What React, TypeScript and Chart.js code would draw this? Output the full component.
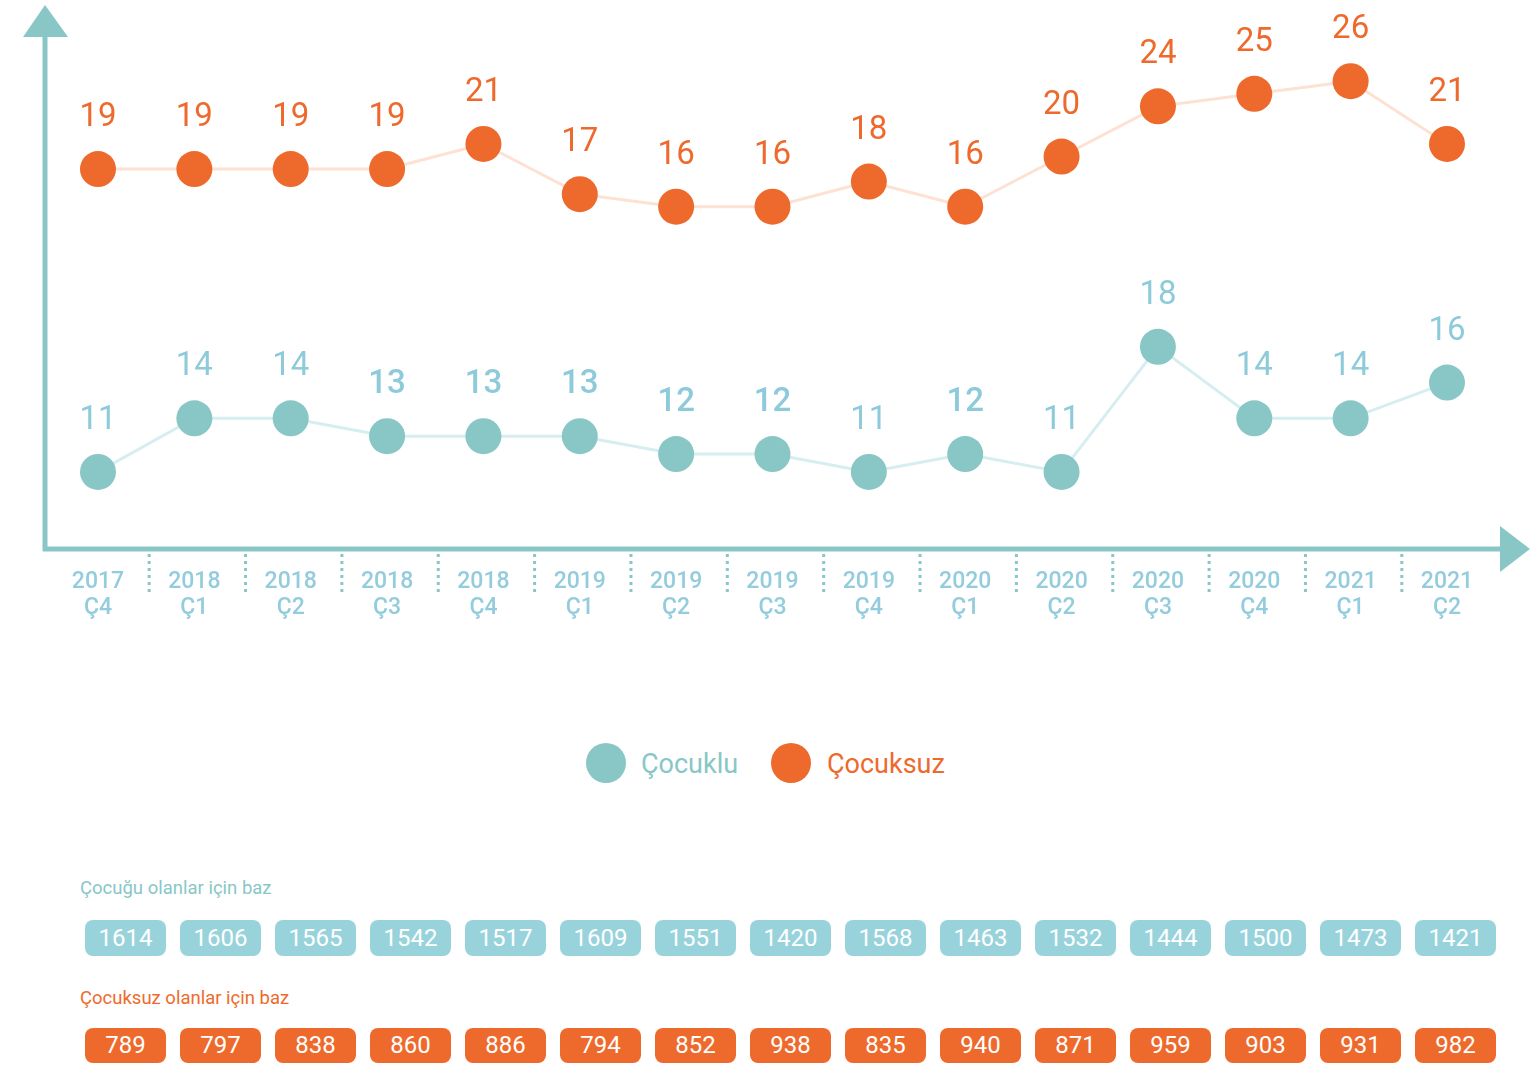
import React, { useEffect, useRef } from "react";
import { Chart, registerables } from "chart.js";

Chart.register(...registerables);

const quarters: string[][] = [
  ["2017", "Ç4"], ["2018", "Ç1"], ["2018", "Ç2"], ["2018", "Ç3"], ["2018", "Ç4"],
  ["2019", "Ç1"], ["2019", "Ç2"], ["2019", "Ç3"], ["2019", "Ç4"], ["2020", "Ç1"],
  ["2020", "Ç2"], ["2020", "Ç3"], ["2020", "Ç4"], ["2021", "Ç1"], ["2021", "Ç2"],
];
const cocuklu: number[] = [11, 14, 14, 13, 13, 13, 12, 12, 11, 12, 11, 18, 14, 14, 16];
const cocuksuz: number[] = [19, 19, 19, 19, 21, 17, 16, 16, 18, 16, 20, 24, 25, 26, 21];
const cocukluBase: number[] = [1614, 1606, 1565, 1542, 1517, 1609, 1551, 1420, 1568, 1463, 1532, 1444, 1500, 1473, 1421];
const cocuksuzBase: number[] = [789, 797, 838, 860, 886, 794, 852, 938, 835, 940, 871, 959, 903, 931, 982];
const seriesNames: string[] = ["Çocuklu", "Çocuksuz"];
const baseTitles: string[] = ["Çocuğu olanlar için baz", "Çocuksuz olanlar için baz"];

const TEAL = "#88C7C6";
const TEAL_TEXT = "#8DCADA";
const TEAL_LINE = "#D7EEF0";
const ORANGE = "#EE6A2C";
const ORANGE_LINE = "#FDE1D2";
const TEAL_BOX = "#98D3DC";
const FONT = "Roboto";

const decorPlugin = {
  id: "decor",
  beforeDatasetsDraw(chart: any) {
    const ctx = chart.ctx;
    const x = chart.scales.x;
    ctx.save();
    ctx.fillStyle = TEAL;
    ctx.strokeStyle = TEAL;
    ctx.lineWidth = 5;
    // vertical axis
    ctx.beginPath();
    ctx.moveTo(45, 551);
    ctx.lineTo(45, 36);
    ctx.stroke();
    ctx.beginPath();
    ctx.moveTo(45, 5);
    ctx.lineTo(23, 37);
    ctx.lineTo(68, 37);
    ctx.closePath();
    ctx.fill();
    // horizontal axis
    ctx.beginPath();
    ctx.moveTo(43, 549);
    ctx.lineTo(1502, 549);
    ctx.stroke();
    ctx.beginPath();
    ctx.moveTo(1530, 549);
    ctx.lineTo(1500, 526);
    ctx.lineTo(1500, 572);
    ctx.closePath();
    ctx.fill();
    // dotted separators
    ctx.lineWidth = 3;
    ctx.setLineDash([3, 4]);
    for (let i = 0; i < quarters.length - 1; i++) {
      const m = (x.getPixelForValue(i) + x.getPixelForValue(i + 1)) / 2 + 3;
      ctx.beginPath();
      ctx.moveTo(m, 554);
      ctx.lineTo(m, 592);
      ctx.stroke();
    }
    ctx.restore();
  },
  afterDatasetsDraw(chart: any) {
    const ctx = chart.ctx;
    ctx.save();
    ctx.textAlign = "center";
    ctx.textBaseline = "alphabetic";
    chart.data.datasets.forEach((ds: any, di: number) => {
      const meta = chart.getDatasetMeta(di);
      ctx.fillStyle = di === 0 ? TEAL_TEXT : ORANGE;
      meta.data.forEach((pt: any, j: number) => {
        const v = ds.data[j];
        const bold = di === 0 && (v === 12 || v === 13);
        ctx.font = `${bold ? 500 : 400} 33px ${FONT}`;
        ctx.fillText(String(v), pt.x, pt.y - 43);
      });
    });
    ctx.restore();
  },
};

function LineChart() {
  const ref = useRef<HTMLCanvasElement | null>(null);
  useEffect(() => {
    if (!ref.current) return;
    const chart = new Chart(ref.current, {
      type: "line",
      data: {
        labels: quarters,
        datasets: [
          {
            label: seriesNames[0],
            data: cocuklu,
            yAxisID: "y",
            borderColor: TEAL_LINE,
            borderWidth: 3,
            pointRadius: 18,
            pointHoverRadius: 18,
            pointBackgroundColor: TEAL,
            pointBorderWidth: 0,
            tension: 0,
            clip: false,
          },
          {
            label: seriesNames[1],
            data: cocuksuz,
            yAxisID: "y2",
            borderColor: ORANGE_LINE,
            borderWidth: 3,
            pointRadius: 18,
            pointHoverRadius: 18,
            pointBackgroundColor: ORANGE,
            pointBorderWidth: 0,
            tension: 0,
            clip: false,
          },
        ],
      },
      options: {
        responsive: false,
        animation: false,
        layout: { padding: { left: 98, right: 83, top: 0, bottom: 0 } },
        plugins: { legend: { display: false }, tooltip: { enabled: false } },
        scales: {
          x: {
            type: "category",
            offset: false,
            grid: { display: false },
            border: { display: false },
            ticks: {
              color: "#93CCDC",
              font: { family: FONT, size: 23, weight: "500", lineHeight: 1.15 },
              padding: 11,
              autoSkip: false,
              maxRotation: 0,
            },
            afterFit: (s: any) => {
              s.height = 90;
            },
          },
          y: { display: false, min: 6.63, max: 36.4 },
          y2: { display: false, min: -11.36, max: 31.04 },
        },
      },
      plugins: [decorPlugin],
    } as any);
    return () => chart.destroy();
  }, []);
  return <canvas ref={ref} width={1530} height={640} style={{ width: 1530, height: 640, display: "block" }} />;
}

export default function App() {
  const boxStyle = (bg: string, top: number, i: number, h: number): React.CSSProperties => ({
    position: "absolute",
    left: 85 + 95 * i,
    top,
    width: 81,
    height: h,
    borderRadius: 8,
    background: bg,
    color: "#fff",
    fontFamily: FONT,
    fontSize: 24,
    lineHeight: `${h}px`,
    textAlign: "center",
  });
  return (
    <div style={{ position: "absolute", left: 0, top: 0, width: 1530, height: 1066, background: "#fff", overflow: "hidden" }}>
      <div style={{ position: "absolute", left: 0, top: 0 }}>
        <LineChart />
      </div>
      {/* legend */}
      <div style={{ position: "absolute", left: 586, top: 743, width: 40, height: 40, borderRadius: 20, background: TEAL }} />
      <div style={{ position: "absolute", left: 641, top: 747, fontFamily: FONT, fontSize: 27, lineHeight: "34px", color: TEAL }}>{seriesNames[0]}</div>
      <div style={{ position: "absolute", left: 771, top: 743, width: 40, height: 40, borderRadius: 20, background: ORANGE }} />
      <div style={{ position: "absolute", left: 827, top: 747, fontFamily: FONT, fontSize: 27, lineHeight: "34px", color: ORANGE }}>{seriesNames[1]}</div>
      {/* base tables */}
      <div style={{ position: "absolute", left: 80, top: 877, fontFamily: FONT, fontSize: 18.5, lineHeight: "22px", color: TEAL }}>{baseTitles[0]}</div>
      {cocukluBase.map((v, i) => (
        <div key={"a" + i} style={boxStyle(TEAL_BOX, 920, i, 36)}>{v}</div>
      ))}
      <div style={{ position: "absolute", left: 80, top: 987, fontFamily: FONT, fontSize: 18.5, lineHeight: "22px", color: ORANGE }}>{baseTitles[1]}</div>
      {cocuksuzBase.map((v, i) => (
        <div key={"b" + i} style={boxStyle(ORANGE, 1028, i, 35)}>{v}</div>
      ))}
    </div>
  );
}
